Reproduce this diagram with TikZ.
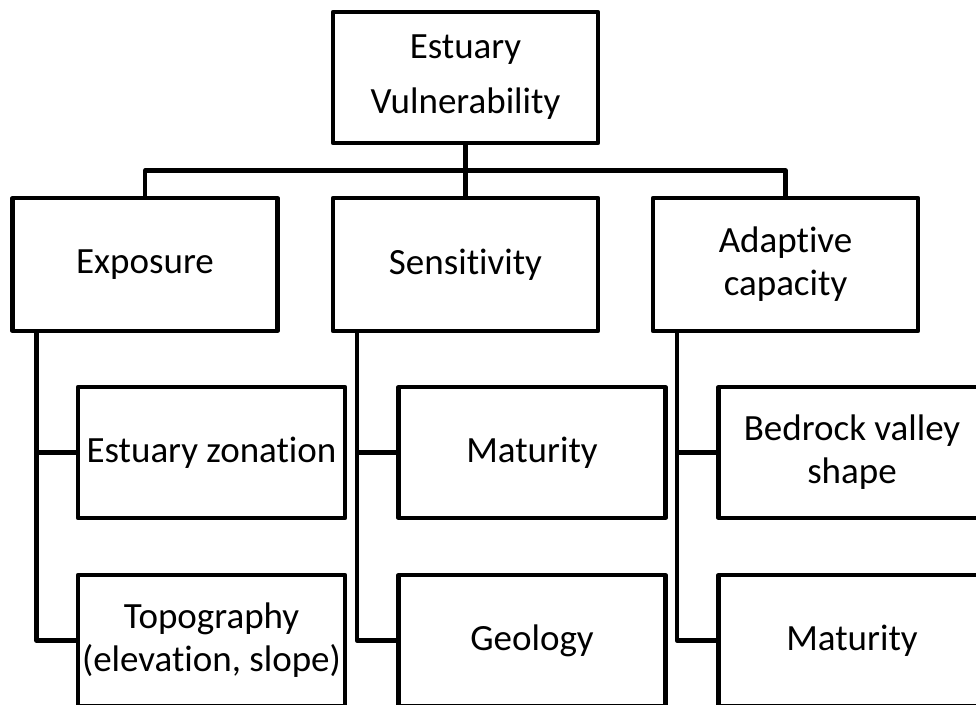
\documentclass[tikz,border=0pt]{standalone}
\usepackage{fontspec}
\setmainfont[Ligatures=NoCommon]{Carlito}
\usetikzlibrary{positioning,calc}

\begin{document}
\begin{tikzpicture}[x=1pt,y=-1pt,on grid,node distance=188pt,
      line width=4.2pt,line join=round,
      box/.style={draw,fill=white,minimum width=267pt,minimum height=131pt,
        inner sep=0pt,align=center,font=\fontsize{37}{43}\selectfont},
      head/.style={box,minimum width=265pt,minimum height=133pt}]
	\useasboundingbox (0,0) rectangle (976,704);
	\node[box,minimum width=265pt,font=\fontsize{37}{55}\selectfont] (vul) at (465.5,77.5) {Estuary\\Vulnerability};
	\node[head] (sen) [below=187pt of vul] {Sensitivity};
	\node[head] (exp) [left=320.5pt of sen] {Exposure};
	\node[head] (ada) [right=320pt of sen] {Adaptive\\capacity};
	\node[box] (zon) [below right=188pt and 66.5pt of exp] {Estuary zonation};
	\node[box] (topo) [below=188pt of zon] {Topography\\(elevation, slope)};
	\node[box] (mat) [below right=188pt and 66.5pt of sen] {Maturity};
	\node[box] (geo) [below=188pt of mat] {Geology};
	\node[box] (bed) [below right=188pt and 66.5pt of ada] {Bedrock valley\\shape};
	\node[box] (amat) [below=188pt of bed] {Maturity};
	\coordinate (bus) at ($(vul.south)!0.5!(sen.north)$);
	\coordinate (expdrop) at ([xshift=26pt]exp.south west);
	\coordinate (sendrop) at ([xshift=26pt]sen.south west);
	\coordinate (adadrop) at ([xshift=26pt]ada.south west);
	\draw (vul) -- (sen);
	\draw (exp) |- (bus) -| (ada);
	\draw (expdrop) |- (zon);
	\draw (expdrop) |- (topo);
	\draw (sendrop) |- (mat);
	\draw (sendrop) |- (geo);
	\draw (adadrop) |- (bed);
	\draw (adadrop) |- (amat);
\end{tikzpicture}
\end{document}
